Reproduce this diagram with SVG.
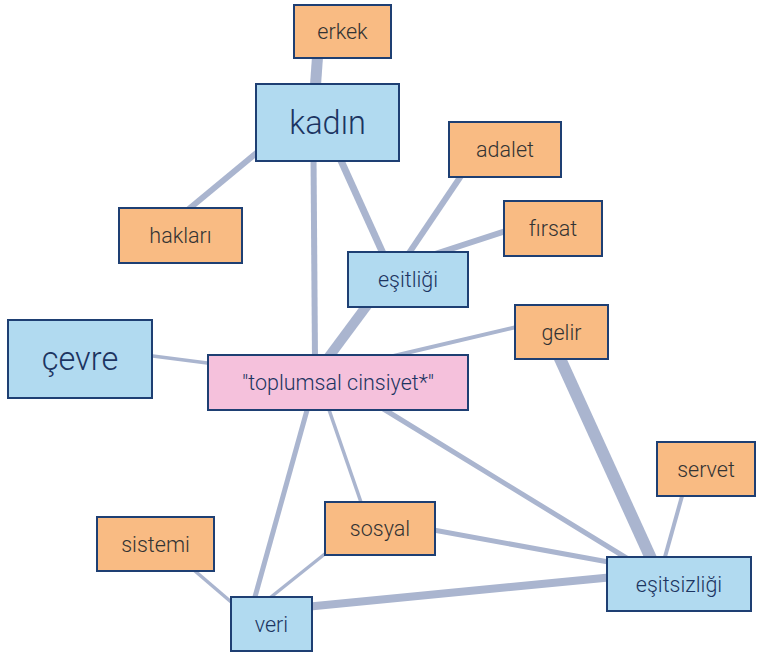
<svg xmlns="http://www.w3.org/2000/svg" width="762" height="655" viewBox="0 0 762 655">
<style>
.e{stroke:#aab5cf;stroke-linecap:butt;fill:none}
.n rect{stroke:#1e3f73;stroke-width:2}
.o rect{fill:#f9bb83}
.b rect{fill:#b1daf0}
.p rect{fill:#f5c1dc}
text{font-family:Roboto,"Liberation Sans",sans-serif;font-weight:300;text-anchor:middle}
.o text{fill:#333333;font-size:21.5px}
.b text,.p text{fill:#1c3461;font-size:21.5px}
.b text.big{font-size:32.5px}
</style>
<rect width="762" height="655" fill="#ffffff"/>
<g id="edges">
<line class="e" x1="318" y1="50" x2="315" y2="92" stroke-width="11"/>
<line class="e" x1="265" y1="146" x2="184" y2="213" stroke-width="6"/>
<line class="e" x1="313.5" y1="155" x2="315" y2="362" stroke-width="6"/>
<line class="e" x1="338" y1="154" x2="386" y2="260" stroke-width="7"/>
<line class="e" x1="465" y1="170" x2="405" y2="259" stroke-width="6"/>
<line class="e" x1="512" y1="229" x2="432" y2="255" stroke-width="6"/>
<line class="e" x1="371" y1="300" x2="325" y2="362" stroke-width="10"/>
<line class="e" x1="145" y1="355" x2="215" y2="364" stroke-width="3.5"/>
<line class="e" x1="525" y1="325" x2="385" y2="358" stroke-width="4"/>
<line class="e" x1="557" y1="352" x2="654" y2="565" stroke-width="12"/>
<line class="e" x1="684" y1="489" x2="663" y2="564" stroke-width="4"/>
<line class="e" x1="377" y1="405" x2="633" y2="562" stroke-width="5"/>
<line class="e" x1="327" y1="404" x2="363" y2="508" stroke-width="3.5"/>
<line class="e" x1="309" y1="403" x2="253" y2="604" stroke-width="5"/>
<line class="e" x1="428" y1="529" x2="614" y2="563" stroke-width="5"/>
<line class="e" x1="331" y1="549" x2="266" y2="601" stroke-width="3.5"/>
<line class="e" x1="188" y1="565" x2="237" y2="607" stroke-width="3.5"/>
<line class="e" x1="305" y1="607" x2="614" y2="577" stroke-width="8"/>
</g>
<g id="erkek" class="n o"><rect x="294" y="5" width="97" height="53"/><text x="342.5" y="39">erkek</text></g>
<g id="kadin" class="n b"><rect x="256" y="84" width="143" height="77"/><text class="big" x="327.5" y="134">kadın</text></g>
<g id="adalet" class="n o"><rect x="449" y="122" width="112" height="55"/><text x="505" y="157">adalet</text></g>
<g id="firsat" class="n o"><rect x="504" y="201" width="98" height="55"/><text x="553" y="236">fırsat</text></g>
<g id="haklari" class="n o"><rect x="119" y="208" width="123" height="55"/><text x="180.5" y="243">hakları</text></g>
<g id="esitligi" class="n b"><rect x="348" y="252" width="120" height="55"/><text x="408" y="287">eşitliği</text></g>
<g id="cevre" class="n b"><rect x="8" y="320" width="144" height="78"/><text class="big" x="80" y="370">çevre</text></g>
<g id="gelir" class="n o"><rect x="515" y="305" width="93" height="54"/><text x="561.5" y="339.5">gelir</text></g>
<g id="toplumsal" class="n p"><rect x="208" y="355" width="260" height="55"/><text x="338" y="390">"toplumsal cinsiyet*"</text></g>
<g id="servet" class="n o"><rect x="657" y="442" width="98" height="54"/><text x="706" y="476.5">servet</text></g>
<g id="sistemi" class="n o"><rect x="97" y="517" width="117" height="54"/><text x="155.5" y="551.5">sistemi</text></g>
<g id="sosyal" class="n o"><rect x="325" y="502" width="110" height="53"/><text x="380" y="536">sosyal</text></g>
<g id="esitsizligi" class="n b"><rect x="607" y="557" width="144" height="54"/><text x="679" y="591.5">eşitsizliği</text></g>
<g id="veri" class="n b"><rect x="231" y="597" width="81" height="54"/><text x="271.5" y="631.5">veri</text></g>
</svg>
